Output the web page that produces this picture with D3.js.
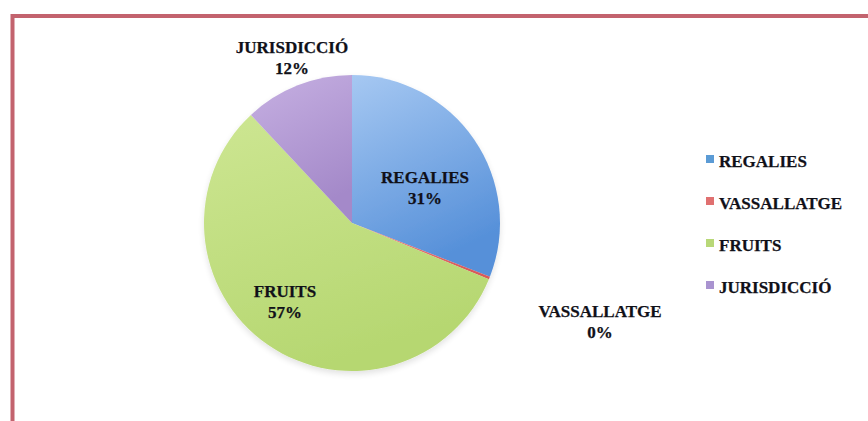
<!DOCTYPE html>
<html><head><meta charset="utf-8">
<script src="https://cdn.jsdelivr.net/npm/d3@7"></script>
<style>
html,body{margin:0;padding:0;background:#fff;}
svg{display:block;}
text{font-family:"Liberation Serif","Times New Roman",serif;font-weight:bold;fill:#101018;font-size:17px;stroke:#101018;stroke-width:0.25px;}
</style></head>
<body>
<svg id="c" width="868" height="421"></svg>
<script>
const categories = ["REGALIES", "VASSALLATGE", "FRUITS", "JURISDICCIÓ"];
const values = [31, 0.3, 57, 12];
const colorsTop = ["#a6c8f2", "#f08c8c", "#cde692", "#c6b0e2"];
const colorsBottom = ["#5690d9", "#d85a5a", "#b6d771", "#a489c9"];
const legendColors = ["#5b9bd5", "#e07070", "#b8d878", "#a993d0"];

const svg = d3.select("#c");
const W = 868, H = 421;
const cx = 352, cy = 223, r = 148;

// border
svg.append("path")
  .attr("d", `M12.5,${H} L12.5,16 L${W},16`)
  .attr("fill", "none").attr("stroke", "#c3636e").attr("stroke-width", 4);

const defs = svg.append("defs");
categories.forEach((c, i) => {
  const g = defs.append("linearGradient").attr("id", "g" + i)
    .attr("x1", 0).attr("y1", 0).attr("x2", 0.35).attr("y2", 1);
  g.append("stop").attr("offset", "0%").attr("stop-color", colorsTop[i]);
  g.append("stop").attr("offset", "100%").attr("stop-color", colorsBottom[i]);
});
const f = defs.append("filter").attr("id", "sh").attr("x", "-20%").attr("y", "-20%").attr("width", "140%").attr("height", "140%");
f.append("feGaussianBlur").attr("in", "SourceAlpha").attr("stdDeviation", 3);
f.append("feOffset").attr("dx", 0).attr("dy", 3).attr("result", "b");
f.append("feComponentTransfer").append("feFuncA").attr("type", "linear").attr("slope", 0.12);
const fm = f.append("feMerge"); fm.append("feMergeNode"); fm.append("feMergeNode").attr("in", "SourceGraphic");

const total = d3.sum(values);
const pie = d3.pie().sort(null).value(d => d)(values);
const arc = d3.arc().innerRadius(0).outerRadius(r);

const gp = svg.append("g").attr("transform", `translate(${cx},${cy})`).attr("filter", "url(#sh)");
gp.selectAll("path").data(pie).join("path")
  .attr("d", arc)
  .attr("fill", (d, i) => `url(#g${i})`);

const pct = v => Math.round(v / total * 100) + "%";
const labelPos = [[425, 183], [600, 317], [285, 297], [292, 53]];
categories.forEach((c, i) => {
  const t = svg.append("text").attr("text-anchor", "middle")
    .attr("x", labelPos[i][0]).attr("y", labelPos[i][1]);
  t.append("tspan").attr("x", labelPos[i][0]).text(c);
  t.append("tspan").attr("x", labelPos[i][0]).attr("dy", 21).text(pct(values[i]));
});

// legend
const lg = svg.append("g");
categories.forEach((c, i) => {
  const y = 167 + i * 42;
  lg.append("rect").attr("x", 706).attr("y", y - 12).attr("width", 8).attr("height", 8)
    .attr("fill", legendColors[i]);
  lg.append("text").attr("x", 719).attr("y", y).text(c);
});
</script>
</body></html>
